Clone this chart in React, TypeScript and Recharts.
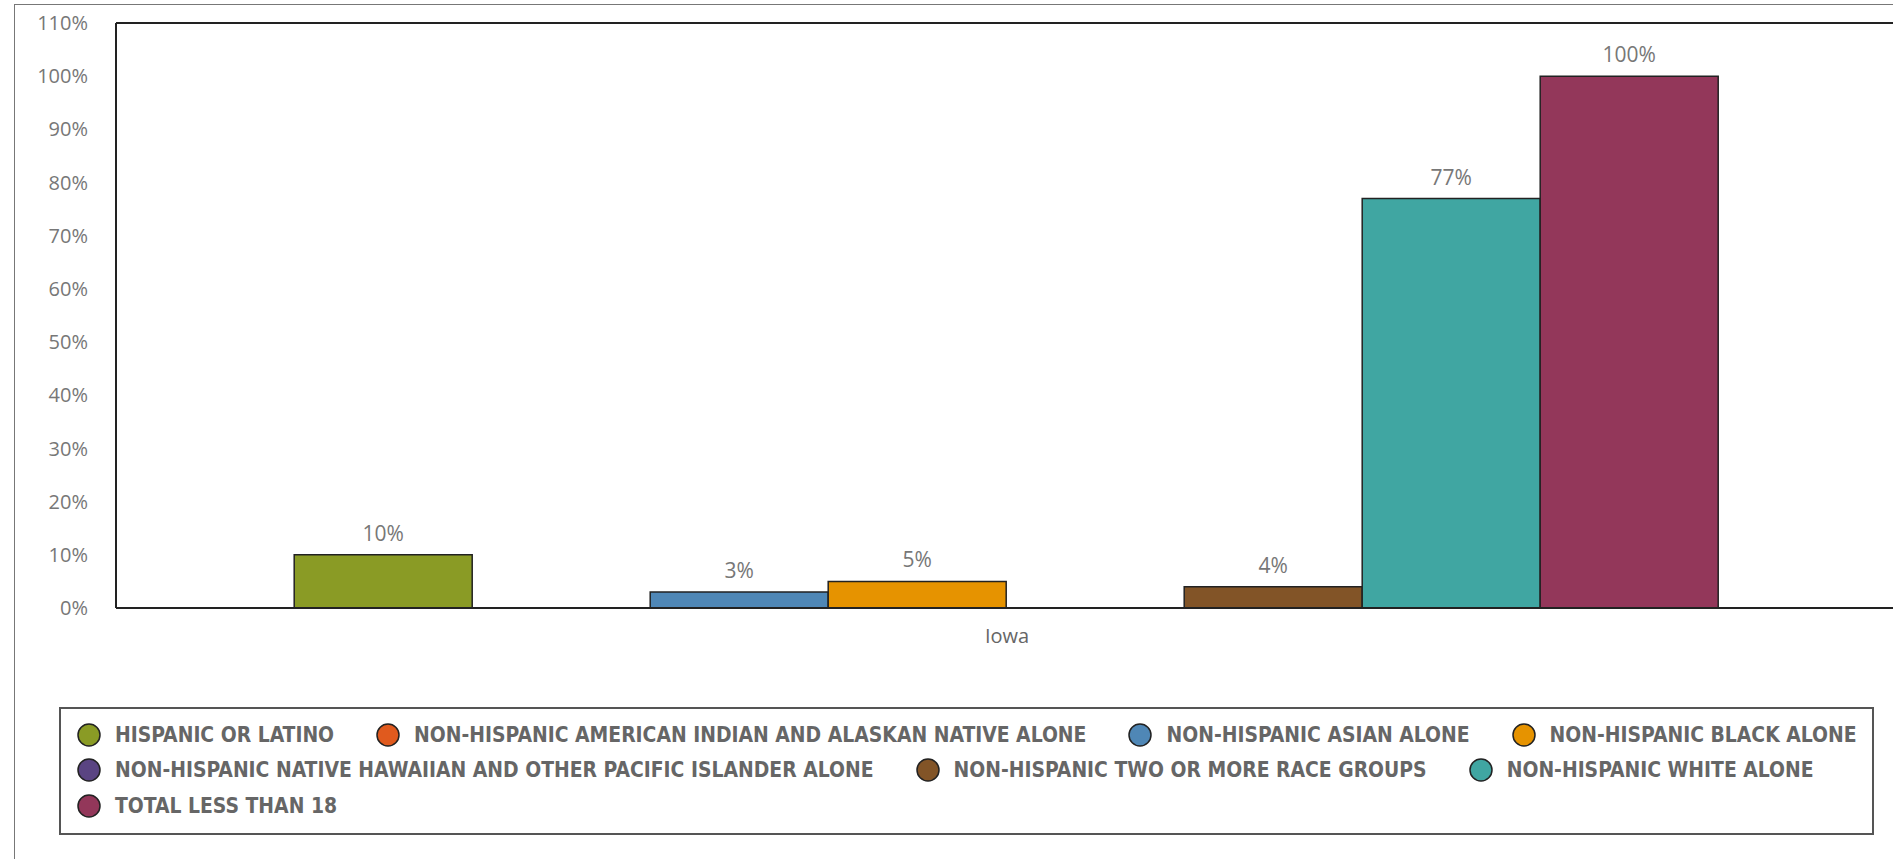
import React from "react";
import {
  BarChart,
  Bar,
  XAxis,
  YAxis,
  Legend,
  LabelList,
  ReferenceLine,
} from "recharts";

const categories = ["Iowa"];
const seriesNames = [
  "HISPANIC OR LATINO",
  "NON-HISPANIC AMERICAN INDIAN AND ALASKAN NATIVE ALONE",
  "NON-HISPANIC ASIAN ALONE",
  "NON-HISPANIC BLACK ALONE",
  "NON-HISPANIC NATIVE HAWAIIAN AND OTHER PACIFIC ISLANDER ALONE",
  "NON-HISPANIC TWO OR MORE RACE GROUPS",
  "NON-HISPANIC WHITE ALONE",
  "TOTAL LESS THAN 18",
];
const seriesKeys = ["hisp", "aian", "asian", "black", "nhpi", "two", "white", "total"];
const seriesColors = [
  "#8a9b25",
  "#e05a1e",
  "#4f87b6",
  "#e69300",
  "#5a4482",
  "#825427",
  "#40a6a2",
  "#93375a",
];
// percent values for Iowa (null = not shown)
const iowaValues: (number | null)[] = [10, null, 3, 5, null, 4, 77, 100];
const yTicks = [0, 10, 20, 30, 40, 50, 60, 70, 80, 90, 100, 110];

const data = categories.map((name) => {
  const row: Record<string, any> = { name };
  seriesKeys.forEach((k, i) => {
    row[k] = iowaValues[i];
  });
  return row;
});

const tickFont = "'Open Sans', 'Noto Sans', sans-serif";
const legendFont = "'Liberation Sans Narrow', 'DejaVu Sans Condensed', 'Roboto Condensed', sans-serif";

function LegendBox(props: any) {
  const payload = props.payload || [];
  return (
    <div
      style={{
        boxSizing: "border-box",
        width: 1815,
        height: 128,
        border: "2px solid #555",
        padding: "8px 0 0 16px",
        display: "flex",
        flexWrap: "wrap",
        alignContent: "flex-start",
        columnGap: 42,
      }}
    >
      {payload.map((p: any) => (
        <div key={p.value} style={{ display: "flex", alignItems: "center", height: 35.5 }}>
          <svg width={24} height={24}>
            <circle cx={12} cy={12} r={11} fill={p.color} stroke="#222" strokeWidth={1.5} />
          </svg>
          <span
            style={{
              marginLeft: 14,
              fontFamily: legendFont,
              fontWeight: 700,
              fontSize: 20.9,
              color: "#666",
              whiteSpace: "nowrap",
            }}
          >
            {p.value}
          </span>
        </div>
      ))}
    </div>
  );
}

export default function App() {
  return (
    <div
      style={{
        position: "fixed",
        left: 0,
        top: 0,
        width: 1893,
        height: 859,
        overflow: "hidden",
        background: "#fff",
      }}
    >
      {/* outer frame */}
      <div
        style={{
          position: "absolute",
          left: 14,
          top: 4,
          width: 1920,
          height: 900,
          border: "1.5px solid #777",
        }}
      />
      <BarChart
        width={1910}
        height={859}
        data={data}
        margin={{ top: 23, right: 12, left: 0, bottom: 191 }}
        barCategoryGap="10%"
        barGap={0}
        style={{ position: "absolute", left: 0, top: 0 }}
      >
        <XAxis
          dataKey="name"
          height={60}
          axisLine={{ stroke: "#222", strokeWidth: 2 }}
          tickLine={false}
          tickMargin={15}
          tick={{ fill: "#666", fontSize: 20, fontFamily: tickFont }}
        />
        <YAxis
          width={116}
          domain={[0, 110]}
          ticks={yTicks}
          interval={0}
          axisLine={{ stroke: "#222", strokeWidth: 2 }}
          tickLine={false}
          tickMargin={22}
          tickFormatter={(v: number) => `${v}%`}
          tick={{ fill: "#777", fontSize: 20, fontFamily: tickFont }}
        />
        <ReferenceLine y={110} stroke="#222" strokeWidth={2} />
        <Legend
          layout="horizontal"
          verticalAlign="middle"
          align="center"
          content={<LegendBox />}
          wrapperStyle={{ left: 59, top: 707, width: 1815, height: 128 }}
        />
        {seriesKeys.map((k, i) => (
          <Bar
            key={k}
            dataKey={k}
            name={seriesNames[i]}
            fill={seriesColors[i]}
            stroke="#222"
            strokeWidth={1.5}
            isAnimationActive={false}
          >
            <LabelList
              dataKey={k}
              position="top"
              offset={14}
              formatter={(v: any) => (v == null ? "" : `${v}%`)}
              style={{ fill: "#777", fontSize: 21, fontFamily: tickFont }}
            />
          </Bar>
        ))}
      </BarChart>
    </div>
  );
}
